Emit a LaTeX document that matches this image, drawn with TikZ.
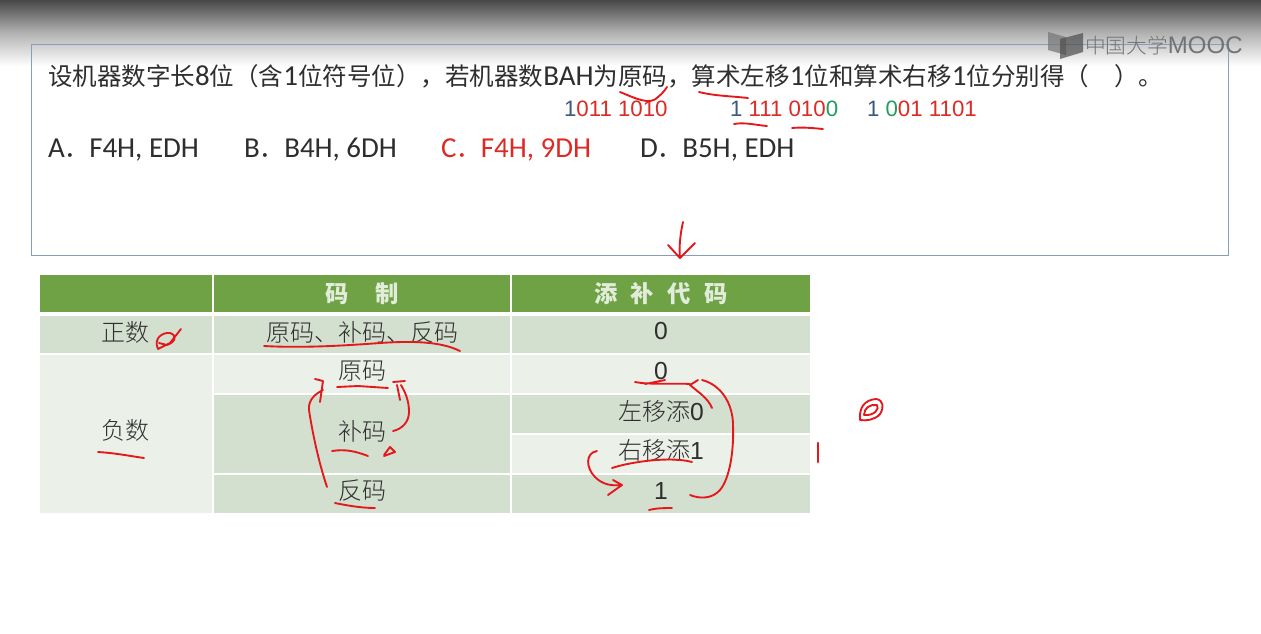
\documentclass[tikz,border=0pt]{standalone}
\usepackage{fontspec}
\setmainfont{Carlito}
\newfontfamily\cjk{Noto Sans CJK SC}
\newfontfamily\cjklight{Noto Sans CJK SC Light}
\newfontfamily\arial{Liberation Sans}
\usetikzlibrary{calc}
\definecolor{hdr}{HTML}{6FA245}
\definecolor{dk}{HTML}{D3DFCF}
\definecolor{lt}{HTML}{EBF0E9}
\definecolor{ink}{HTML}{E4171B}
\definecolor{txt}{HTML}{2E2E2E}
\definecolor{bitblue}{HTML}{3A5A80}
\definecolor{bitred}{HTML}{DE2A24}
\definecolor{bitgreen}{HTML}{1E9E60}
\definecolor{frm}{HTML}{85A0BE}
\newcommand{\lat}[1]{{\fontspec{Carlito}\fontsize{21.7pt}{24pt}\selectfont #1}}
\newcommand{\fdot}{{\cjk\fontsize{18.4pt}{22pt}\selectfont ．}}
\tikzset{
 x=0.75pt,y=-0.75pt,
 cell/.style={inner sep=0pt,outer sep=0pt,anchor=center,text=txt,font=\cjklight\fontsize{18pt}{20pt}\selectfont},
 hcell/.style={cell,text=white!80!hdr,font=\cjk\bfseries\fontsize{17.5pt}{20pt}\selectfont},
 line/.style={inner sep=0pt,outer sep=0pt,anchor=base west,text=txt,font=\fontsize{21.7pt}{24pt}\selectfont},
 bits/.style={inner sep=0pt,outer sep=0pt,anchor=base west,font=\arial\fontsize{16.7pt}{19pt}\selectfont},
 pen/.style={draw=ink,line width=1.4pt,line cap=round,line join=round},
}
\newcommand{\cellbox}[6]{% name, fill, x1, y1, x2, y2
 \fill[#2] (#3,#4) rectangle (#5,#6);
 \coordinate (#1) at ({(#3+#5)/2},{(#4+#6)/2});}
\begin{document}
\begin{tikzpicture}
\useasboundingbox (0,0) rectangle (1261,633);
\fill[white] (0,0) rectangle (1261,633);
\shade[top color=black!72,bottom color=white,middle color=black!30] (0,0) rectangle (1261,66);
% question frame
\node[draw=frm,line width=0.8pt,inner sep=0pt,minimum width=897.75pt,minimum height=158.25pt,anchor=north west] (frame) at (31,44) {};
% logo
\fill[black!55,opacity=.7] (1048,32) -- (1066,37) -- (1066,55) -- (1048,50) -- cycle;
\fill[black!70,opacity=.7] (1060,39) -- (1083,33) -- (1083,52) -- (1060,59) -- cycle;
\node[inner sep=0pt,anchor=west,text=black!55,font=\cjklight\fontsize{15.5pt}{18pt}\selectfont] (logo) at (1085,46) {中国大学\fontspec{Liberation Sans}\fontsize{18pt}{18pt}\selectfont MOOC};
% question text
\node[line] (q) at (48,85) {\cjk\fontsize{18.4pt}{22pt}\selectfont 设机器数字长\lat{8}位（含\lat{1}位符号位），若机器数\lat{BAH}为原码，算术左移\lat{1}位和算术右移\lat{1}位分别得（\hspace{19pt}）。};
\node[bits] (b1) at (564,116) {\textcolor{bitblue}{1}\textcolor{bitred}{011 1010}};
\node[bits] (b2) at (730,116) {\textcolor{bitblue}{1} \textcolor{bitred}{111 010}\textcolor{bitgreen}{0}};
\node[bits] (b3) at (867,116) {\textcolor{bitblue}{1} \textcolor{bitgreen}{0}\textcolor{bitred}{01 1101}};
\node[line] (a) at (48,157) {A\fdot F4H, EDH};
\node[line] (b) at (244,157) {B\fdot B4H, 6DH};
\node[line,text=bitred] (c) at (441,157) {C\fdot F4H, 9DH};
\node[line] (d) at (640,157) {D\fdot B5H, EDH};
% table backgrounds
\cellbox{h1}{hdr}{40}{275}{212}{312}
\cellbox{h2}{hdr}{214}{275}{510}{312}
\cellbox{h3}{hdr}{512}{275}{810}{312}
\cellbox{r1a}{dk}{40}{316}{212}{353}
\cellbox{r1b}{dk}{214}{316}{510}{353}
\cellbox{r1c}{dk}{512}{316}{810}{353}
\cellbox{neg}{lt}{40}{355}{212}{513}
\cellbox{yuan}{lt}{214}{355}{510}{393}
\cellbox{yuanv}{lt}{512}{355}{810}{393}
\cellbox{bu}{dk}{214}{395}{510}{473}
\cellbox{left}{dk}{512}{395}{810}{433}
\cellbox{right}{lt}{512}{435}{810}{473}
\cellbox{fan}{dk}{214}{475}{510}{513}
\cellbox{fanv}{dk}{512}{475}{810}{513}
% table text
\node[hcell] (th2) at (h2) {码\hspace{20pt}制};
\node[hcell] (th3) at (h3) {添\hspace{10pt}补\hspace{10pt}代\hspace{10pt}码};
\node[cell] (t1) at ($(r1a)+(-1,-2)$) {正数};
\node[cell] (t2) at ($(r1b)+(0,-2)$) {原码、补码、反码};
\node[cell] (t3) at ($(r1c)+(0,-3)$) {\arial\fontsize{18.5pt}{20pt}\selectfont 0};
\node[cell] (t4) at ($(neg)+(-1,-4)$) {负数};
\node[cell] (t5) at ($(yuan)+(0,-3)$) {原码};
\node[cell] (t6) at ($(yuanv)+(0,-3)$) {\arial\fontsize{18.5pt}{20pt}\selectfont 0};
\node[cell] (t7) at ($(bu)+(0,-3)$) {补码};
\node[cell] (t8) at ($(left)+(0,-3)$) {左移添\arial\fontsize{18.5pt}{20pt}\selectfont 0};
\node[cell] (t9) at ($(right)+(0,-4)$) {右移添\arial\fontsize{18.5pt}{20pt}\selectfont 1};
\node[cell] (t10) at ($(fan)+(0,-3)$) {反码};
\node[cell] (t11) at ($(fanv)+(0,-3)$) {\arial\fontsize{18.5pt}{20pt}\selectfont 1};
% red handwriting
\draw[pen] (620,92) .. controls (635,98) and (650,106) .. (658,97) .. controls (662,94) and (665,90) .. (667,87);
\draw[pen] (699,92) .. controls (715,96) and (730,96) .. (748,98);
\draw[pen] (734,124) .. controls (745,122) and (755,125) .. (767,126);
\draw[pen] (792,128) .. controls (803,127) and (812,128) .. (823,129);
\draw[pen] (683,222) .. controls (680,235) and (679,248) .. (680,258) (668,245) -- (680,258) -- (695,243);
\draw[pen] (181,329) -- (170,343) -- (158,349) (158,349) .. controls (153,338) and (163,332) .. (170,333) .. controls (177,335) and (176,342) .. (167,345) -- (159,343);
\draw[pen] (264,346) .. controls (300,348) and (340,346) .. (380,343) .. controls (410,341) and (440,341) .. (460,351);
\draw[pen] (337,387) -- (358,386) -- (388,388);
\draw[pen] (327,487) .. controls (318,460) and (312,430) .. (309,410) .. controls (308,400) and (315,394) .. (323,390) (315,379) -- (323,381) -- (320,402);
\draw[pen] (393,431) .. controls (402,429) and (409,422) .. (409,412) .. controls (409,400) and (405,392) .. (401,385) (393,382) -- (405,381) (397,385) -- (400,400);
\draw[pen] (332,451) .. controls (345,449) and (355,451) .. (368,456);
\draw[pen] (384,455) -- (390,447) -- (395,452) -- (384,456);
\draw[pen] (98,452) .. controls (115,453) and (130,456) .. (144,458);
\draw[pen] (335,503) .. controls (345,505) and (360,508) .. (375,508);
\draw[pen] (635,382) .. controls (650,385) and (675,383) .. (690,384) (645,384) -- (665,380);
\draw[pen] (712,408) .. controls (708,398) and (698,392) .. (690,385) (690,385) -- (698,380);
\draw[pen] (690,495) .. controls (700,499) and (712,499) .. (720,490) .. controls (730,478) and (734,450) .. (733,425) .. controls (733,405) and (722,385) .. (702,380);
\draw[pen] (612,468) .. controls (630,462) and (670,456) .. (692,462);
\draw[pen] (597,451) .. controls (585,453) and (586,468) .. (595,477) .. controls (603,485) and (612,486) .. (622,485) (613,480) -- (622,485) -- (608,495);
\draw[pen] (649,510) .. controls (657,508) and (665,508) .. (672,508);
\draw[pen,line width=2.2pt] (818,443) -- (818,462);
\draw[pen] (860,420) .. controls (859,408) and (864,400) .. (876,399) .. controls (884,400) and (884,408) .. (880,414) .. controls (875,420) and (866,421) .. (860,420) (864,415) .. controls (864,408) and (870,404) .. (877,405) .. controls (880,409) and (874,416) .. (864,415);
\end{tikzpicture}
\end{document}
